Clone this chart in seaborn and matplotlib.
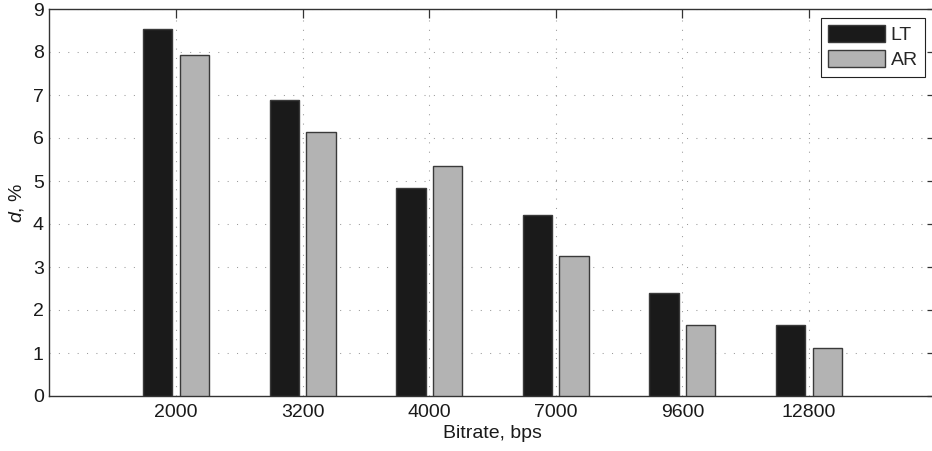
import matplotlib
matplotlib.use("Agg")
import matplotlib.pyplot as plt
from matplotlib.patches import Patch
import numpy as np
import pandas as pd
import seaborn as sns

# Measured values
bitrates = ["2000", "3200", "4000", "7000", "9600", "12800"]
lt_values = [8.53, 6.89, 4.83, 4.21, 2.40, 1.65]
ar_values = [7.93, 6.15, 5.34, 3.26, 1.65, 1.12]
series_names = ["LT", "AR"]
series_colors = ["#1a1a1a", "#b3b3b3"]
y_ticks = list(range(0, 10))

df = pd.DataFrame({
    "Bitrate": bitrates * 2,
    "d": lt_values + ar_values,
    "Method": ["LT"] * len(bitrates) + ["AR"] * len(bitrates),
})

sns.set_style("white")
plt.rcParams["font.family"] = ["Liberation Sans", "DejaVu Sans"]
plt.rcParams["mathtext.fontset"] = "custom"
plt.rcParams["mathtext.rm"] = "Liberation Sans"
plt.rcParams["mathtext.it"] = "Liberation Sans:italic"

FS = 14
W, H = 932, 451
fig = plt.figure(figsize=(W / 100, H / 100), dpi=100)
left_px, right_px, top_px, bottom_px = 49.4, 935.6, 9.0, 396.0
ax = fig.add_axes([left_px / W, 1 - bottom_px / H,
                   (right_px - left_px) / W, (bottom_px - top_px) / H])

sns.barplot(data=df, x="Bitrate", y="d", hue="Method", order=bitrates,
            hue_order=series_names, palette=series_colors, saturation=1,
            width=0.58, gap=0.2, edgecolor="#3a3a3a", linewidth=1.0,
            legend=False, ax=ax, zorder=3)

ax.set_xlim(-1, 6)
ax.set_ylim(0, 9)
ax.set_yticks(y_ticks)

ax.grid(True, which="major", axis="both", color="#9a9a9a",
        linestyle=(0, (1, 8)), linewidth=0.75, zorder=0)
ax.set_axisbelow(True)

for s in ax.spines.values():
    s.set_color("#333333")
    s.set_linewidth(1.0)
    s.set_visible(True)
ax.spines["right"].set_visible(False)

ax.tick_params(axis="both", which="major", direction="in", length=6.5,
               width=0.9, color="#333333", labelsize=FS, labelcolor="#1a1a1a",
               top=True, right=True, pad=4.0)
ax.tick_params(axis="x", pad=6)

ax.set_xlabel("Bitrate, bps", fontsize=FS, color="#1a1a1a", labelpad=3)
ax.set_ylabel("$d$, %", fontsize=FS, color="#1a1a1a", labelpad=5)

handles = [Patch(facecolor=c, edgecolor="#3a3a3a", linewidth=1.0)
           for c in series_colors]
leg = ax.legend(handles, series_names, loc="upper right",
                bbox_to_anchor=(925 / W, 1 - 18 / H),
                bbox_transform=fig.transFigure, fontsize=FS,
                handlelength=2.9, handleheight=0.95, borderpad=0.38,
                labelspacing=0.3, handletextpad=0.3, borderaxespad=0,
                fancybox=False, framealpha=1, edgecolor="#222222")
leg.get_frame().set_linewidth(0.8)

fig.savefig("out.png", dpi=100)
